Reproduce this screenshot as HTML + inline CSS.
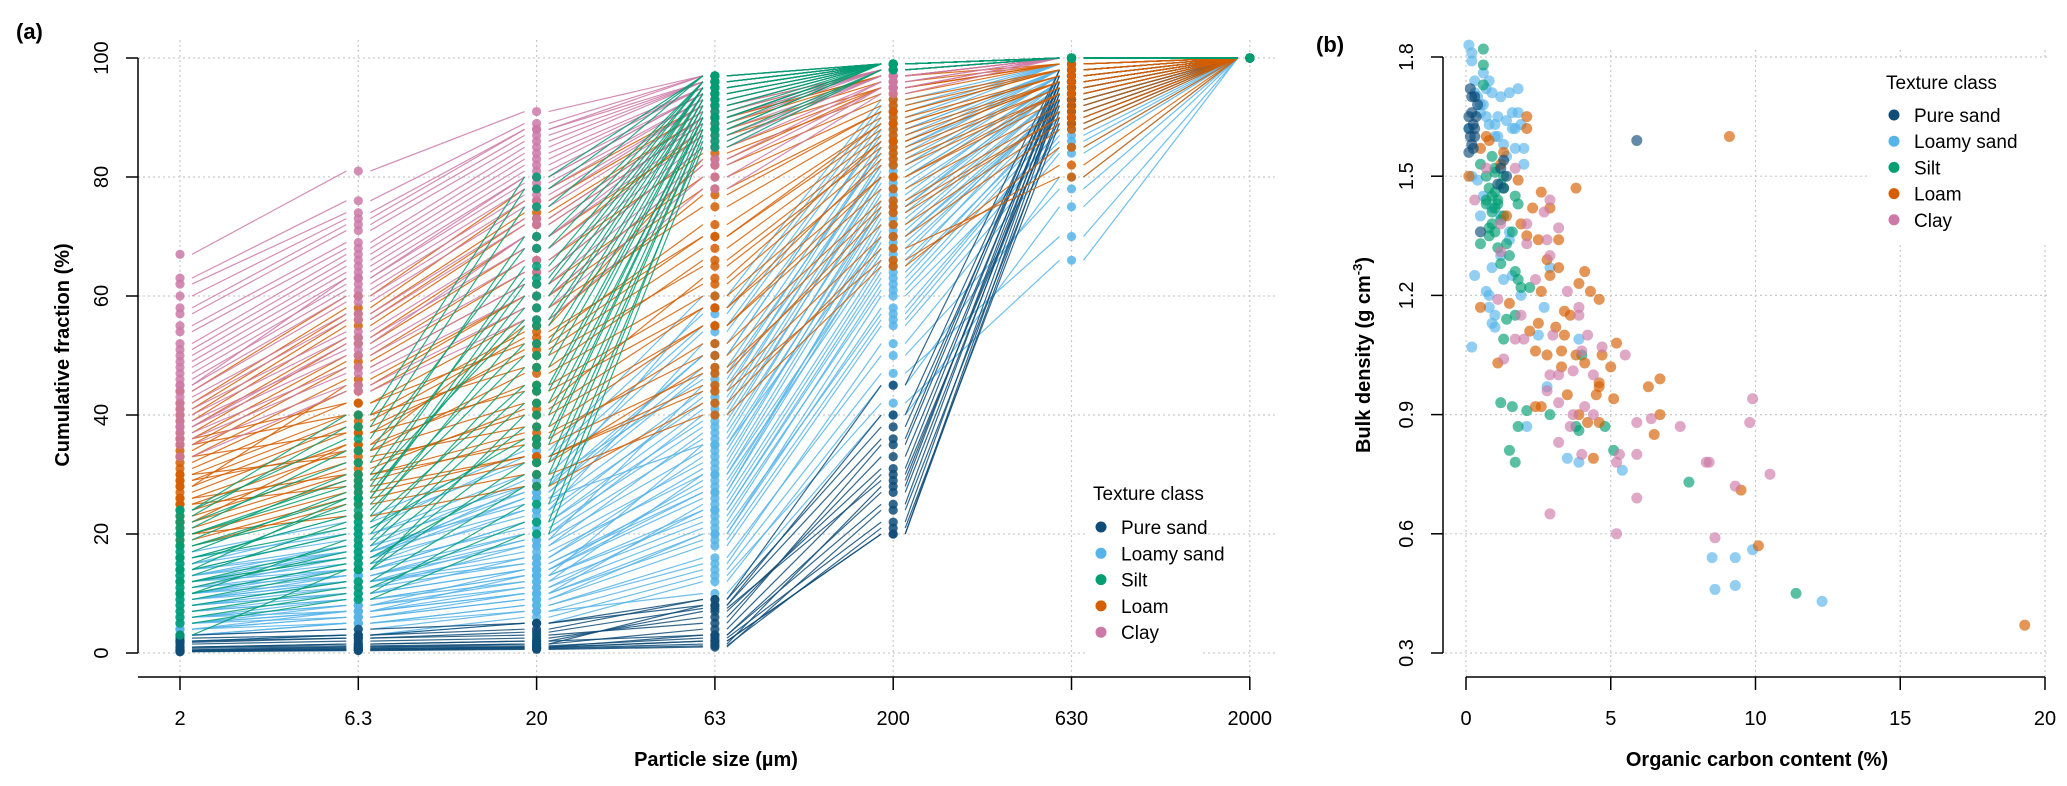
<!DOCTYPE html>
<html><head><meta charset="utf-8">
<style>
html,body{margin:0;padding:0;background:#fff;}
svg{display:block;font-family:"Liberation Sans",Arial,sans-serif;}
</style></head>
<body>
<svg id="fig" width="2067" height="786" viewBox="0 0 2067 786" xmlns="http://www.w3.org/2000/svg">
<rect width="2067" height="786" fill="#fff"/>
<g id="pa"></g>
<g id="pb"></g>
</svg>
<script>
// ---------- DATA ----------
const classNames = ["Pure sand","Loamy sand","Silt","Loam","Clay"];
const classColors = ["#0f4c78","#56b4e9","#009e73","#d55e00","#cc79a7"];
const sizeLabels = ["2","6.3","20","63","200","630","2000"];
const yTicksA = [0,20,40,60,80,100];
// cumulative fraction curves (2,6.3,20,63,200,630 µm; 2000 = 100)
const pureSand = [[0.5,0.8,1,2,20,93],[1,1.5,2,3,25,95],[0.3,0.5,0.8,1.5,28,96],[2,2.5,3,5,35,97],[1,1.2,1.5,4,30,92],[0.5,1,1.5,8,40,97],[2.5,3,4,9,38,96],[0.2,0.4,0.6,1,24,90],[1.5,2,2.5,6,33,95],[0.8,1,1.2,2.5,22,94],[3,4,5,8,36,98],[0.5,0.7,1,3,27,93],[1,1.5,2,7,31,96],[2,3,5,9,45,98],[0.4,0.6,0.9,2,20,91],[0.3,0.5,0.7,1.2,21,89],[1.8,2.5,3.5,7.5,29,94]];
const loamySand = [[2,3,5,12,45,80],[4,6,9,18,55,85],[6,8,12,22,62,90],[8,11,15,28,70,92],[10,13,18,32,75,95],[12,15,21,38,80,96],[14,18,25,44,85,97],[16,20,28,50,88,98],[3,5,8,16,50,78],[5,7,10,20,58,88],[7,10,14,26,66,91],[9,12,17,30,72,94],[11,14,20,36,78,95],[13,17,24,42,83,97],[15,19,27,48,86,98],[17,22,32,55,90,99],[4,6,10,25,65,93],[6,9,13,35,75,96],[8,12,19,45,82,97],[10,15,24,52,87,98],[12,16,28,58,92,99],[3,4,7,14,47,70],[5,6,9,20,60,86],[7,9,12,30,68,92],[9,13,20,40,80,96],[11,16,26,47,84,98],[14,20,30,54,89,99],[16,23,34,60,93,99],[2,3,6,13,42,66],[6,8,11,24,64,90],[8,10,16,33,74,95],[10,14,22,41,81,97],[13,18,29,46,85,98],[15,21,33,57,91,99],[5,8,14,27,71,94],[9,11,18,37,77,96],[4,7,13,23,61,89],[12,17,27,50,88,98],[3,5,7,10,40,75],[4,5,8,15,52,84],[6,7,10,19,56,87],[7,9,13,24,63,91],[8,10,14,29,67,93],[10,12,16,31,73,94],[11,13,19,34,76,95],[12,14,22,39,79,96],[13,16,23,43,82,97],[14,17,26,35,70,93],[5,7,11,21,57,88],[9,12,15,27,69,92]];
const silt = [[5,9,20,85,98,100],[8,12,28,88,99,100],[10,15,35,90,99,100],[12,18,42,92,99,100],[14,20,48,93,99,100],[16,23,55,94,99,100],[18,26,60,95,99,100],[20,28,65,96,99,100],[22,32,70,96,99,100],[24,36,75,97,99,100],[6,10,25,86,98,100],[9,14,32,89,99,100],[11,17,38,91,99,100],[13,22,45,93,99,100],[15,25,52,94,99,100],[17,27,58,95,99,100],[19,30,63,96,99,100],[21,34,68,96,99,100],[23,38,78,97,99,100],[7,11,22,87,98,100],[3,14,40,90,99,100],[18,24,50,94,99,100],[20,29,56,95,99,100],[12,16,30,88,99,100],[24,40,80,97,99,100],[10,19,44,92,99,100],[16,21,36,90,99,100],[14,26,62,95,99,100]];
const loam = [[18,25,30,40,65,85],[20,27,33,45,70,88],[22,30,37,50,75,90],[24,32,40,55,78,92],[26,35,45,60,82,94],[28,38,50,65,85,95],[30,40,54,70,88,96],[32,44,58,75,90,97],[34,48,62,80,92,98],[36,50,66,84,94,99],[38,53,70,87,95,99],[40,56,73,90,97,99],[42,58,76,91,98,100],[44,60,78,92,98,100],[19,26,32,48,72,89],[21,29,36,52,76,91],[23,31,41,58,80,93],[25,34,47,62,84,95],[27,37,51,68,87,96],[29,39,53,72,89,97],[31,42,56,77,91,98],[33,46,60,82,93,98],[35,49,64,85,95,99],[37,52,68,88,96,99],[39,55,72,89,97,100],[41,57,74,90,97,100],[20,23,28,42,68,80],[25,28,33,44,66,82],[30,33,38,55,80,94],[28,45,60,78,91,98],[35,40,48,66,86,96],[22,35,55,83,95,99],[26,30,35,47,74,90],[33,37,44,58,83,94],[36,42,52,70,89,97],[29,34,42,63,86,96]];
const clay = [[35,45,58,80,95,100],[37,48,62,83,96,100],[39,51,66,86,97,100],[41,54,70,88,97,100],[43,57,73,90,98,100],[45,60,76,92,98,100],[47,62,78,93,99,100],[49,64,80,94,99,100],[51,66,82,95,99,100],[54,68,84,95,99,100],[57,71,86,96,99,100],[60,73,88,96,99,100],[63,76,89,97,99,100],[67,81,91,97,99,100],[36,47,60,82,95,100],[38,50,64,85,96,100],[40,53,68,87,97,100],[42,56,72,89,98,100],[44,59,75,91,98,100],[46,61,77,92,99,100],[48,63,79,93,99,100],[50,65,81,94,99,100],[52,67,83,95,99,100],[55,69,85,96,99,100],[58,72,87,96,99,100],[62,74,88,97,99,100],[33,44,56,78,94,100],[38,52,70,90,98,100],[45,63,80,94,99,100]];
const curvesByClass = [pureSand,loamySand,silt,loam,clay];

const xTicksB = [0,5,10,15,20];
const yTicksB = [0.3,0.6,0.9,1.2,1.5,1.8];
const ocPure = [0.2,0.1,0.3,0.2,0.15,0.3,0.4,0.1,0.25,0.2,1.3,1.4,1.2,5.9,0.5,0.3,0.35,0.15,0.1,0.25,1.1,1.3];
const bdPure = [1.7,1.65,1.62,1.58,1.6,1.7,1.68,1.56,1.63,1.66,1.54,1.5,1.52,1.59,1.36,1.6,1.65,1.72,1.62,1.57,1.48,1.47];
const ocLoamy = [0.1,0.2,0.2,0.3,0.4,0.5,0.6,0.7,0.8,0.9,1,1.1,1.2,1.3,1.5,1.6,1.7,1.8,1.9,2,0.1,0.3,0.5,0.7,1,1.4,1.6,1.8,2,0.2,0.4,0.6,0.9,1.2,1.5,0.2,0.3,0.8,1,0.9,2.5,2.7,2.8,2.1,3.5,3.9,5.4,8.5,9.3,9.9,8.6,9.3,12.3,3.9,2.9,1.9,0.7,0.8,1.2,1.5,0.6,0.8,1.1,1.4,1.7,0.5,0.9,1.3,1.0,1.6];
const bdLoamy = [1.83,1.81,1.79,1.74,1.7,1.66,1.76,1.72,1.63,1.71,1.63,1.65,1.7,1.58,1.71,1.66,1.57,1.72,1.63,1.53,1.62,1.71,1.68,1.65,1.6,1.64,1.62,1.66,1.57,1.5,1.49,1.45,1.42,1.4,1.36,1.07,1.25,1.17,1.12,1.13,1.1,1.17,0.97,0.87,0.79,0.78,0.76,0.54,0.54,0.56,0.46,0.47,0.43,1.09,1.27,1.2,1.21,1.2,1.3,1.34,1.68,1.74,1.6,1.55,1.62,1.4,1.27,1.24,1.15,1.25];
const ocSilt = [0.6,0.6,0.6,0.5,0.7,0.8,0.9,1,1.1,1.2,1.3,0.9,1,1.1,0.8,0.7,1.2,1.4,1.5,1.6,1.7,1.8,1,0.9,1.3,0.5,1.7,1.8,1.2,1.6,2.1,1.8,1.5,1.7,2.9,3.8,3.9,4.8,5.1,7.7,11.4,4,1.3,1.7,1.4,1.9,2.2,0.9,1.0,1.1,1.2,0.8,1.3,1.0,0.7];
const bdSilt = [1.82,1.78,1.73,1.53,1.5,1.47,1.45,1.42,1.44,1.48,1.4,1.38,1.36,1.32,1.35,1.43,1.28,1.33,1.3,1.36,1.45,1.43,1.52,1.55,1.5,1.33,1.26,1.24,0.93,0.92,0.91,0.87,0.81,0.78,0.9,0.87,0.86,0.87,0.81,0.73,0.45,1.05,1.09,1.15,1.14,1.22,1.22,1.41,1.46,1.43,1.39,1.37,1.47,1.51,1.44];
const ocLoam = [0.1,0.5,0.7,0.8,1.3,2.1,2.1,1.8,2.6,3.8,2.3,2.9,2.1,2.5,3.2,2.8,3.2,2.9,4.1,3.9,4.3,4.6,2.6,3.4,3.6,2.5,3.1,3.4,2.2,5.2,2.4,2.8,3.3,3.8,4.1,4.7,5,3.3,6.7,6.3,4.6,4.6,4.5,5.1,3.5,2.4,2.6,3.9,4.2,4.6,6.7,6.5,4.4,0.5,1.1,9.1,9.5,10.1,19.3,1.5,1.2,1.4,1.9];
const bdLoam = [1.5,1.57,1.6,1.59,1.56,1.62,1.65,1.49,1.46,1.47,1.42,1.42,1.35,1.34,1.34,1.29,1.27,1.25,1.26,1.23,1.21,1.19,1.21,1.16,1.15,1.13,1.12,1.1,1.11,1.08,1.06,1.05,1.06,1.05,1.03,1.05,1.02,1.02,0.99,0.97,0.98,0.97,0.95,0.94,0.95,0.92,0.92,0.9,0.88,0.88,0.9,0.85,0.79,1.17,1.03,1.6,0.71,0.57,0.37,1.18,1.53,1.4,1.38];
const ocClay = [0.3,0.7,1.2,1.7,2.9,2.7,2.1,3.2,2.8,2.1,2.9,1.2,2.4,3.5,3.9,1.1,1.9,3.9,1.7,2,1.3,3,4.2,4.7,4,5.5,3.2,3.7,2.9,4.4,2.8,3.2,4.1,3.7,4.4,3.6,6.4,5.9,7.4,9.9,9.8,3.2,4,5.3,5.9,5.2,8.3,8.4,10.5,9.3,5.9,2.9,5.2,8.6];
const bdClay = [1.44,1.52,1.38,1.52,1.44,1.41,1.38,1.37,1.34,1.33,1.3,1.31,1.24,1.21,1.17,1.19,1.15,1.15,1.09,1.09,1.04,1.1,1.1,1.07,1.06,1.05,1,1.01,1,1,0.96,0.93,0.92,0.9,0.9,0.87,0.89,0.88,0.87,0.94,0.88,0.83,0.8,0.8,0.8,0.78,0.78,0.78,0.75,0.72,0.69,0.65,0.6,0.59];
const ocByClass = [ocPure,ocLoamy,ocSilt,ocLoam,ocClay];
const bdByClass = [bdPure,bdLoamy,bdSilt,bdLoam,bdClay];

// ---------- HELPERS ----------
const NS = "http://www.w3.org/2000/svg";
function mk(parent, tag, attrs, text){
  const e = document.createElementNS(NS, tag);
  for (const k in attrs) e.setAttribute(k, attrs[k]);
  if (text !== undefined) e.textContent = text;
  parent.appendChild(e);
  return e;
}
const pa = document.getElementById("pa");
const pb = document.getElementById("pb");
const GRID = {stroke:"#c9c9c9","stroke-width":1.2,"stroke-dasharray":"2,3",fill:"none"};

// ---------- PANEL A ----------
const ax0 = 180, axStep = 178.3, ay0 = 653, ay100 = 58;
const xA = i => ax0 + i*axStep;
const yA = v => ay0 + (ay100-ay0)*v/100;

sizeLabels.forEach((s,i)=>{
  const g = mk(pa,"line",Object.assign({x1:xA(i),x2:xA(i),y1:40,y2:677},GRID));
  
  
});
yTicksA.forEach(v=>{
  const g = mk(pa,"line",Object.assign({x1:138,x2:1275,y1:yA(v),y2:yA(v)},GRID));
  
  
});

const drawOrder = [1,0,3,4,2];
const gl = mk(pa,"g",{});


drawOrder.forEach(c=>{
  curvesByClass[c].forEach(row=>{
    const vals = row.concat([100]);
    for (let i=0;i<6;i++){
      const ln = mk(gl,"line",{x1:xA(i)+12,y1:yA(vals[i]),x2:xA(i+1)-12,y2:yA(vals[i+1]),stroke:classColors[c],"stroke-width":1.2,"stroke-opacity":0.85});
      
      
    }
  });
});
const gd = mk(pa,"g",{});


drawOrder.forEach(c=>{
  curvesByClass[c].forEach(row=>{
    const vals = row.concat([100]);
    vals.forEach((v,i)=>{
      const d = mk(gd,"circle",{cx:xA(i),cy:yA(v),r:4.6,fill:classColors[c],"fill-opacity":0.85});
      
      
    });
  });
});

// axes A
let e;
e = mk(pa,"line",{x1:138,x2:138,y1:yA(0),y2:yA(100),stroke:"#000","stroke-width":1.5});
 
yTicksA.forEach(v=>{
  const t = mk(pa,"line",{x1:126,x2:138,y1:yA(v),y2:yA(v),stroke:"#000","stroke-width":1.5});
   
  const l = mk(pa,"text",{x:0,y:0,transform:`translate(108,${yA(v)}) rotate(-90)`,"text-anchor":"middle","font-size":20},String(v));
   
});
e = mk(pa,"line",{x1:138,x2:1250,y1:677,y2:677,stroke:"#000","stroke-width":1.5});
 
sizeLabels.forEach((s,i)=>{
  const t = mk(pa,"line",{x1:xA(i),x2:xA(i),y1:677,y2:690,stroke:"#000","stroke-width":1.5});
   
  const l = mk(pa,"text",{x:xA(i),y:725,"text-anchor":"middle","font-size":20},s);
   
});
e = mk(pa,"text",{x:716,y:766,"text-anchor":"middle","font-size":20,"font-weight":"bold"},"Particle size (µm)");
 
e = mk(pa,"text",{x:0,y:0,transform:"translate(69,355) rotate(-90)","text-anchor":"middle","font-size":20,"font-weight":"bold"},"Cumulative fraction (%)");
 
e = mk(pa,"text",{x:16,y:39,"font-size":22,"font-weight":"bold"},"(a)");
 

// legend A
const lgA = mk(pa,"g",{});
 
mk(lgA,"rect",{x:1088,y:470,width:115,height:190,fill:"#fff"});
e = mk(lgA,"text",{x:1093,y:500,"font-size":19},"Texture class");
 
classNames.forEach((n,i)=>{
  const yy = 527 + i*26.3;
  const c = mk(lgA,"circle",{cx:1101,cy:yy,r:5.5,fill:classColors[i]});
   
  const t = mk(lgA,"text",{x:1121,y:yy+7,"font-size":19},n);
   
});

// ---------- PANEL B ----------
const bx0 = 1466, bx20 = 2045, by03 = 653, by18 = 57;
const xB = v => bx0 + (bx20-bx0)*v/20;
const yB = v => by03 + (by18-by03)*(v-0.3)/1.5;

xTicksB.forEach(v=>{
  const g = mk(pb,"line",Object.assign({x1:xB(v),x2:xB(v),y1:50,y2:677},GRID));
   
});
yTicksB.forEach(v=>{
  const g = mk(pb,"line",Object.assign({x1:1440,x2:2050,y1:yB(v),y2:yB(v)},GRID));
   
});
mk(pb,"rect",{x:1868,y:60,width:180,height:185,fill:"#fff"});

const gp = mk(pb,"g",{});
 
[1,2,3,4,0].forEach(c=>{
  ocByClass[c].forEach((oc,i)=>{
    const p = mk(gp,"circle",{cx:xB(oc),cy:yB(bdByClass[c][i]),r:5.5,fill:classColors[c],"fill-opacity":0.65});
     
  });
});

e = mk(pb,"line",{x1:1443,x2:1443,y1:yB(0.3),y2:yB(1.8),stroke:"#000","stroke-width":1.5});
 
yTicksB.forEach(v=>{
  const t = mk(pb,"line",{x1:1431,x2:1443,y1:yB(v),y2:yB(v),stroke:"#000","stroke-width":1.5});
   
  const l = mk(pb,"text",{x:0,y:0,transform:`translate(1413,${yB(v)}) rotate(-90)`,"text-anchor":"middle","font-size":20},v.toFixed(1));
   
});
e = mk(pb,"line",{x1:xB(0),x2:xB(20),y1:677,y2:677,stroke:"#000","stroke-width":1.5});
 
xTicksB.forEach(v=>{
  const t = mk(pb,"line",{x1:xB(v),x2:xB(v),y1:677,y2:690,stroke:"#000","stroke-width":1.5});
   
  const l = mk(pb,"text",{x:xB(v),y:725,"text-anchor":"middle","font-size":20},String(v));
   
});
e = mk(pb,"text",{x:1757,y:766,"text-anchor":"middle","font-size":20,"font-weight":"bold"},"Organic carbon content (%)");
 
const yt = mk(pb,"text",{x:0,y:0,transform:"translate(1370,355) rotate(-90)","text-anchor":"middle","font-size":20,"font-weight":"bold"});
 
mk(yt,"tspan",{},"Bulk density (g cm");
mk(yt,"tspan",{"font-size":13,dy:-8},"-3");
mk(yt,"tspan",{dy:8},")");
e = mk(pb,"text",{x:1316,y:52,"font-size":22,"font-weight":"bold"},"(b)");
 

const lgB = mk(pb,"g",{});
 
e = mk(lgB,"text",{x:1886,y:89,"font-size":19},"Texture class");
 
classNames.forEach((n,i)=>{
  const yy = 115 + i*26.2;
  const c = mk(lgB,"circle",{cx:1894,cy:yy,r:5.5,fill:classColors[i]});
   
  const t = mk(lgB,"text",{x:1914,y:yy+7,"font-size":19},n);
   
});
</script>
</body></html>
